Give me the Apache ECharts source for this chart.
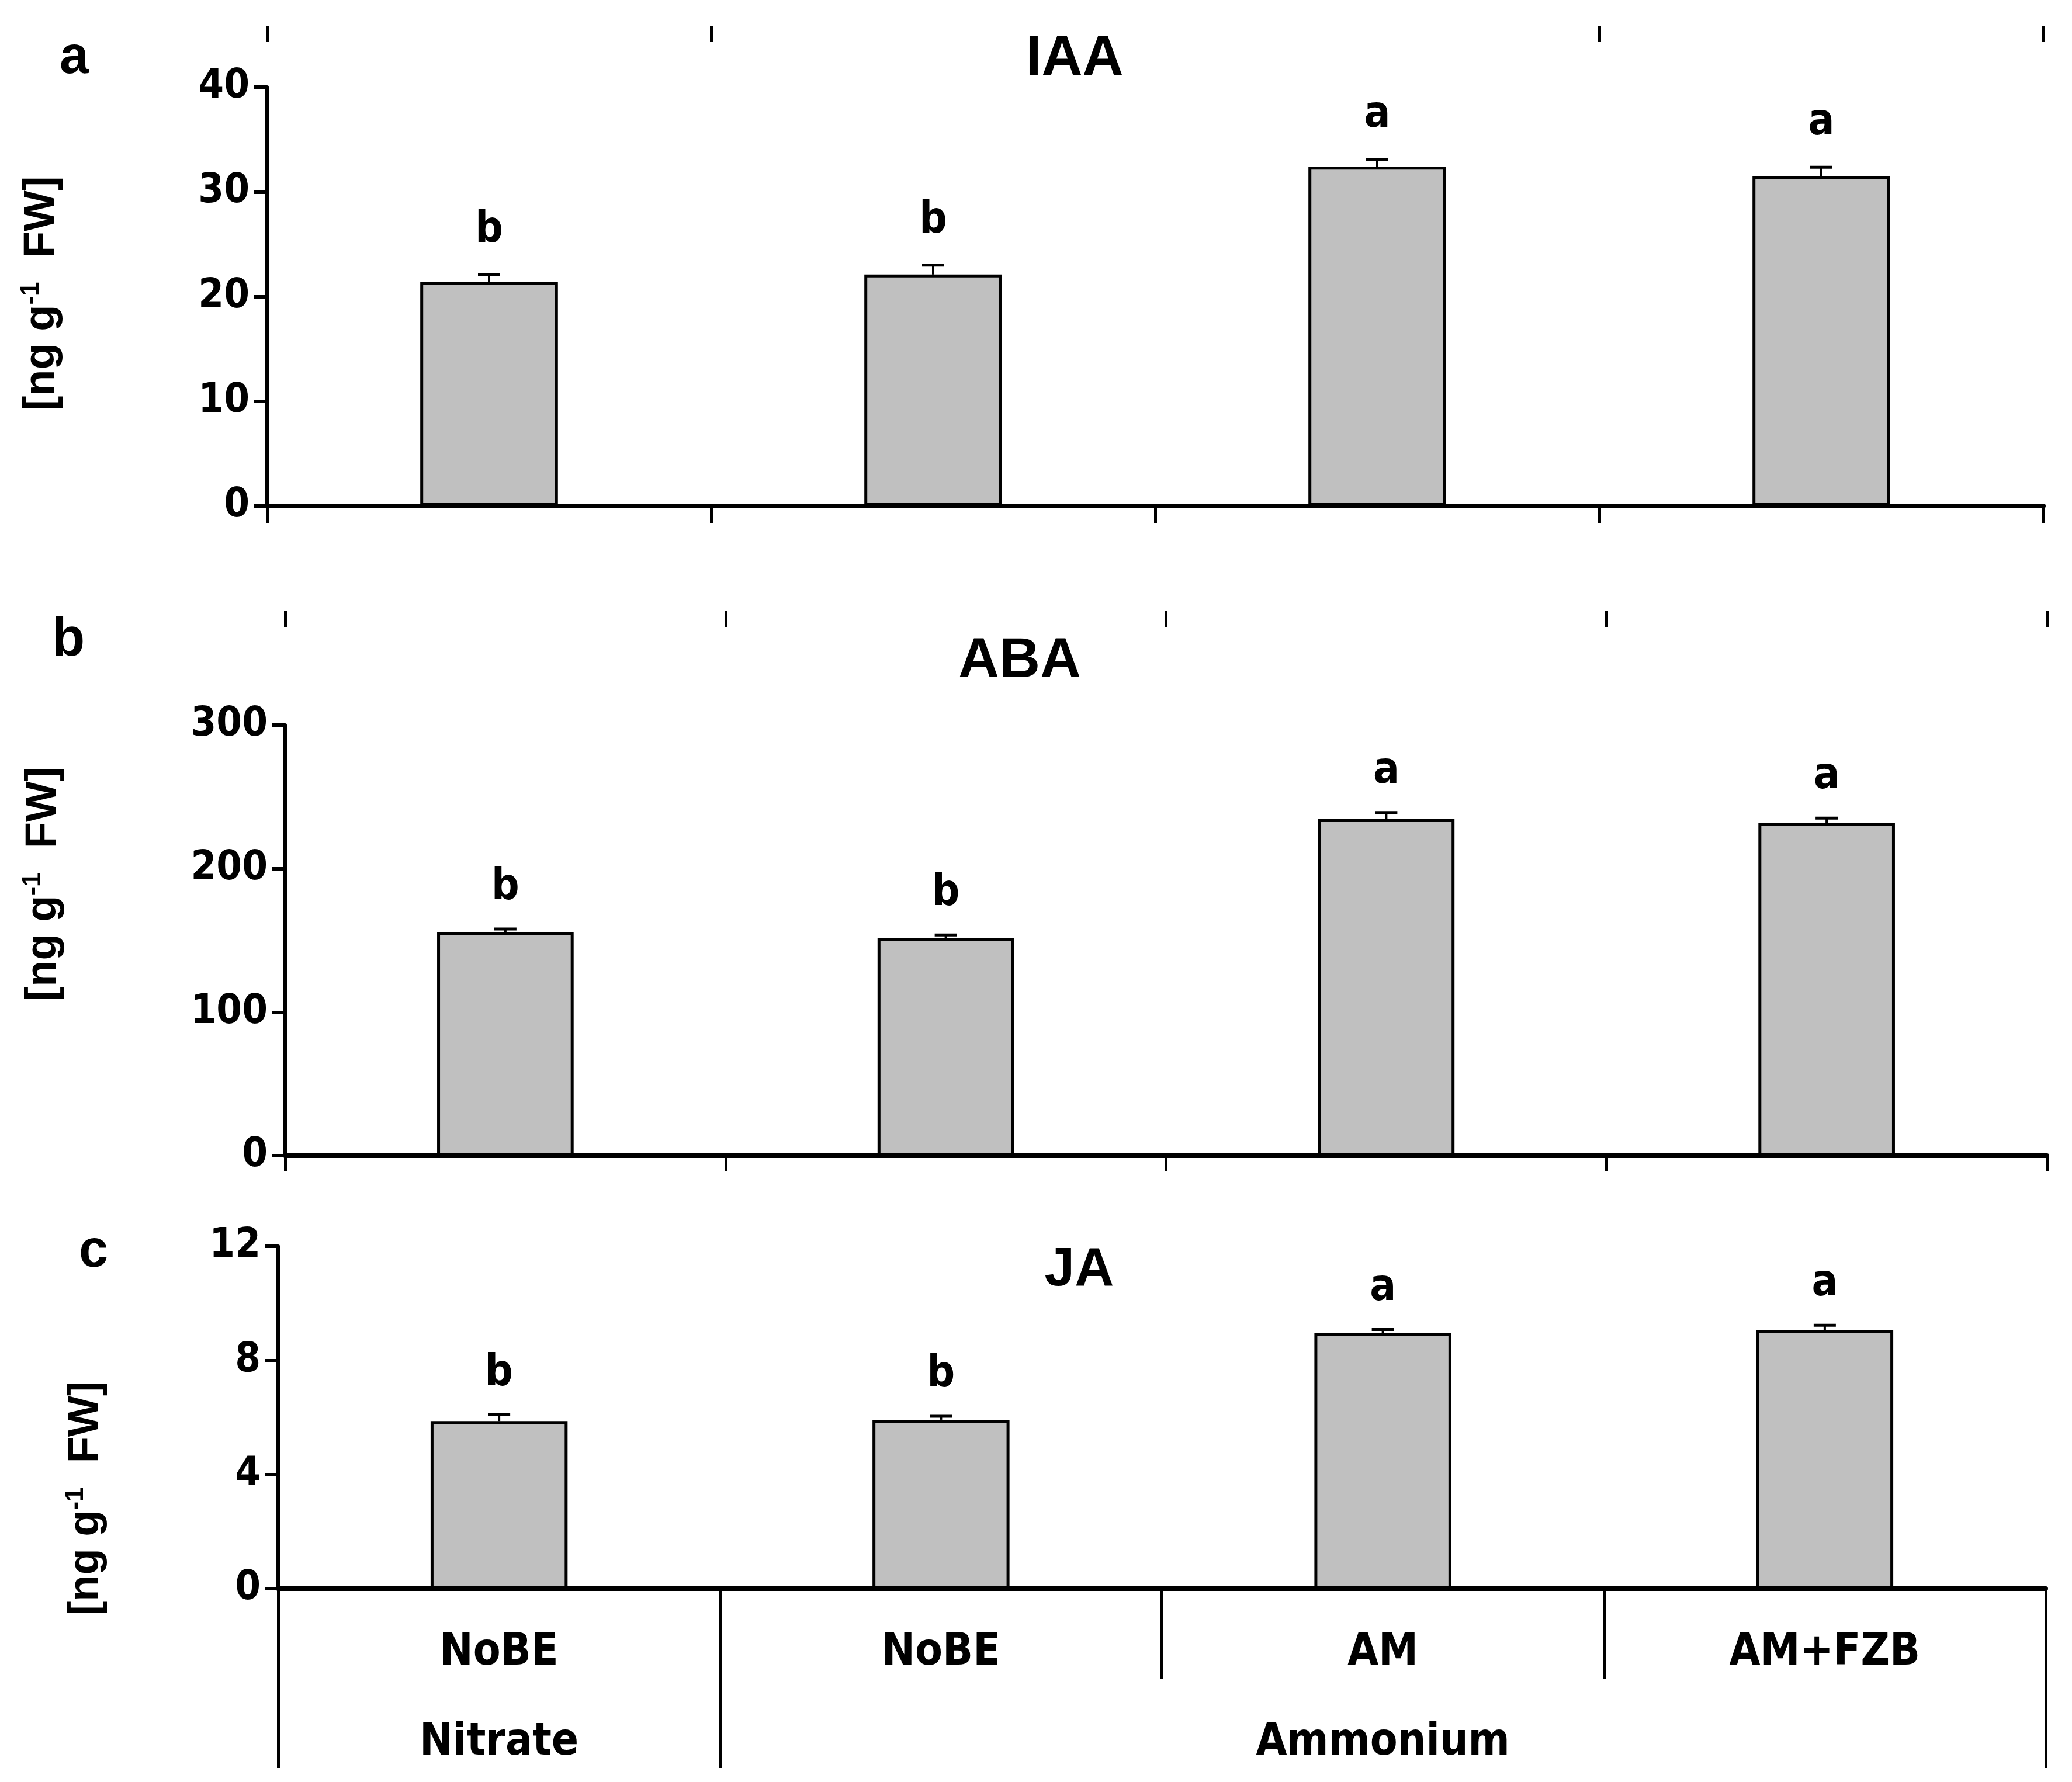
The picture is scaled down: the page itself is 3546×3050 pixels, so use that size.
<!DOCTYPE html>
<html><head><meta charset="utf-8">
<script src="https://cdn.jsdelivr.net/npm/echarts@6/dist/echarts.min.js"></script>
<style>html,body{margin:0;padding:0;background:#fff}#c{width:3546px;height:3050px}</style>
</head><body><div id="c"></div>
<script>
// ---------- data ----------
const categories = ['NoBE', 'NoBE', 'AM', 'AM+FZB'];
const groupLabels = ['Nitrate', 'Ammonium'];
const groupLabelPos = [0, 2];
const groupBounds = [-0.5, 0.5, 3.5];

const iaaMean = [21.4, 22.1, 32.4, 31.5];
const iaaErr = [0.7, 0.9, 0.7, 0.85];
const iaaLetters = ['b', 'b', 'a', 'a'];

const abaMean = [155.5, 151.4, 234.5, 231.7];
const abaErr = [2.4, 2.4, 4.5, 3.5];
const abaLetters = ['b', 'b', 'a', 'a'];

const jaMean = [5.87, 5.92, 8.95, 9.07];
const jaErr = [0.22, 0.12, 0.13, 0.16];
const jaLetters = ['b', 'b', 'a', 'a'];

const iaaTicks = [0, 40, 10];
const abaTicks = [0, 300, 100];
const jaTicks = [0, 12, 4];

// ---------- styles ----------
const NARROW = "'Liberation Sans Narrow', 'Arial Narrow', 'DejaVu Sans Condensed', sans-serif";
const WIDE = "'Liberation Sans', Arial, sans-serif";

const chart = echarts.init(document.getElementById('c'));

function errRender(means, errs, letters, gap) {
  return function (params, api) {
    const i = params.dataIndex;
    const top = api.coord([i, means[i] + errs[i]]);
    const base = api.coord([i, means[i]]);
    const half = 19;
    return {
      type: 'group',
      children: [
        { type: 'line', shape: { x1: top[0], y1: base[1], x2: top[0], y2: top[1] }, style: { stroke: '#000', lineWidth: 4 } },
        { type: 'line', shape: { x1: top[0] - half, y1: top[1], x2: top[0] + half, y2: top[1] }, style: { stroke: '#000', lineWidth: 5 } },
        { type: 'text', x: top[0], y: top[1] - gap, style: { text: letters[i], fill: '#000', fontFamily: NARROW, fontWeight: 'bold', fontSize: 74, align: 'center', verticalAlign: 'bottom' } }
      ]
    };
  };
}

const grids = [
  { left: 457, right: 49, top: 149, height: 717 },
  { left: 488, right: 43, top: 1241, height: 737 },
  { left: 476, right: 45, top: 2133, height: 586 }
];

function yAxisFor(g, t) {
  return {
    type: 'value', gridIndex: g, min: t[0], max: t[1], interval: t[2],
    axisLine: { show: true, onZero: false, lineStyle: { color: '#000', width: 6 } },
    axisTick: { show: true, inside: false, length: 22, lineStyle: { color: '#000', width: 6 } },
    axisLabel: { color: '#000', fontFamily: NARROW, fontWeight: 'bold', fontSize: 70, margin: 30 },
    splitLine: { show: false }
  };
}

function catAxis(g, showLabel, tickLen) {
  return {
    type: 'category', gridIndex: g, data: categories, position: 'bottom',
    axisLine: { show: true, onZero: false, lineStyle: { color: '#000', width: 8 } },
    axisTick: { show: true, inside: false, length: tickLen, lineStyle: { color: '#000', width: 5 } },
    axisLabel: { show: showLabel, color: '#000', fontFamily: NARROW, fontWeight: 'bold', fontSize: 76, margin: 72, interval: 0 },
    splitLine: { show: false }
  };
}

function topAxis(g, offset, ticks) {
  return {
    type: 'value', gridIndex: g, min: -0.5, max: 3.5, position: 'top', offset: offset,
    axisLine: { show: false, onZero: false },
    axisTick: { show: true, inside: false, length: 27, customValues: ticks, lineStyle: { color: '#000', width: 5 } },
    axisLabel: { show: false },
    splitLine: { show: false }
  };
}

const xAxes = [
  catAxis(0, false, 30),
  catAxis(1, false, 27),
  catAxis(2, true, 154),
  topAxis(0, 77, [-0.5, 0.5, 2.5, 3.5]),
  topAxis(1, 168, [-0.5, 0.5, 1.5, 2.5, 3.5]),
  {
    type: 'value', gridIndex: 2, min: -0.5, max: 3.5, position: 'bottom',
    axisLine: { show: false, onZero: false },
    axisTick: { show: true, inside: false, length: 307, customValues: groupBounds, lineStyle: { color: '#000', width: 5 } },
    axisLabel: {
      show: true, customValues: groupLabelPos, color: '#000', fontFamily: NARROW, fontWeight: 'bold', fontSize: 76, margin: 226,
      formatter: function (v) { return groupLabels[groupLabelPos.indexOf(v)]; }
    },
    splitLine: { show: false }
  }
];

const yAxes = [yAxisFor(0, iaaTicks), yAxisFor(1, abaTicks), yAxisFor(2, jaTicks)];

const panels = [
  { means: iaaMean, errs: iaaErr, letters: iaaLetters, gap: 38 },
  { means: abaMean, errs: abaErr, letters: abaLetters, gap: 33 },
  { means: jaMean, errs: jaErr, letters: jaLetters, gap: 33 }
];

const series = [];
panels.forEach(function (p, k) {
  series.push({
    type: 'bar', xAxisIndex: k, yAxisIndex: k, data: p.means, barWidth: '31%',
    itemStyle: { color: '#c0c0c0', borderColor: '#000', borderWidth: 5 },
    silent: true, z: 2
  });
  series.push({
    type: 'custom', xAxisIndex: k, yAxisIndex: k,
    data: p.means.map(function (m, i) { return [i, m]; }),
    renderItem: errRender(p.means, p.errs, p.letters, p.gap),
    silent: true, z: 3
  });
});

function titleText(txt, x, y, size) {
  return { type: 'text', x: x, y: y, style: { text: txt, fill: '#000', fontFamily: WIDE, fontWeight: 'bold', fontSize: size, align: 'center', verticalAlign: 'middle' } };
}
function unitText(x, y) {
  return {
    type: 'text', x: x, y: y, rotation: Math.PI / 2,
    style: {
      text: '[ng g{sup|-1}  FW]', fill: '#000', fontFamily: WIDE, fontWeight: 'bold', fontSize: 74,
      align: 'center', verticalAlign: 'middle', lineHeight: 80,
      rich: { sup: { fontFamily: WIDE, fontWeight: 'bold', fontSize: 44, verticalAlign: 'top', lineHeight: 80, padding: [0, 0, 30, 0] } }
    }
  };
}

const option = {
  backgroundColor: '#fff',
  animation: false,
  grid: grids,
  xAxis: xAxes,
  yAxis: yAxes,
  series: series,
  graphic: [
    titleText('a', 127, 100, 90),
    titleText('b', 117, 1097, 92),
    titleText('c', 160, 2143, 90),
    titleText('IAA', 1839, 101, 97),
    titleText('ABA', 1745, 1132, 97),
    titleText('JA', 1847, 2174, 93),
    unitText(72, 502),
    unitText(75, 1513),
    unitText(148, 2565)
  ]
};
chart.setOption(option);
</script>
</body></html>
